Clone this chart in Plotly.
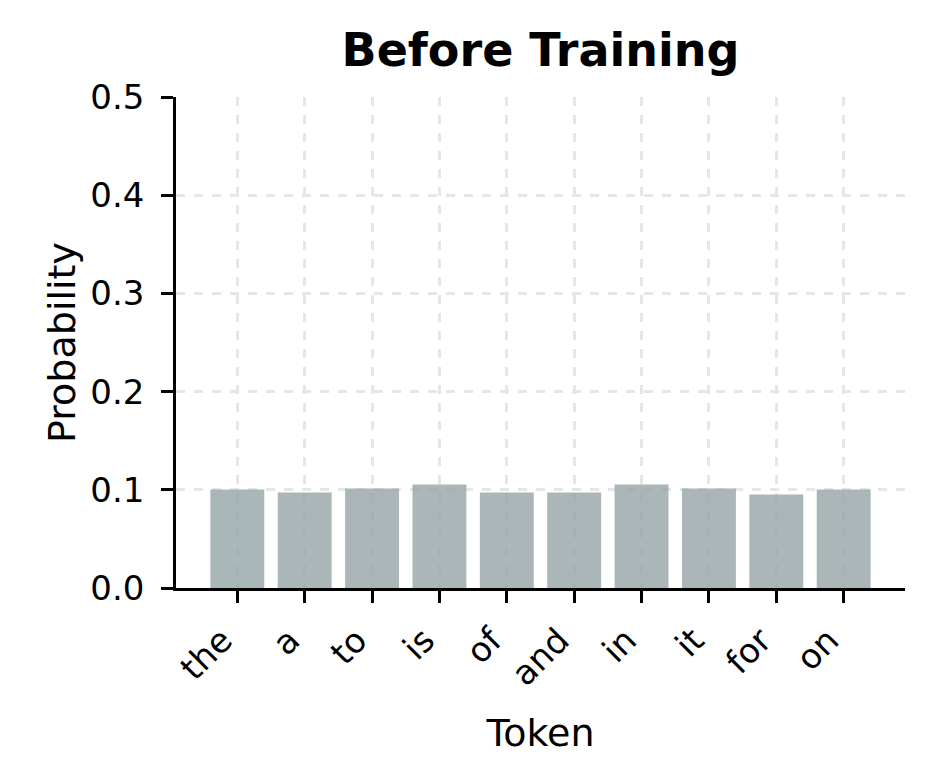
import plotly.graph_objects as go

tokens = ["the", "a", "to", "is", "of", "and", "in", "it", "for", "on"]
probs = [0.1003, 0.0973, 0.1014, 0.1055, 0.0973, 0.0973, 0.1055, 0.1014, 0.0952, 0.1003]
y_ticks = [0.0, 0.1, 0.2, 0.3, 0.4, 0.5]

FONT = "DejaVu Sans"
GRID = "#e6e6e6"

fig = go.Figure(
    go.Bar(
        x=list(range(len(tokens))),
        y=probs,
        width=0.8,
        marker=dict(color="#95a5a6", line=dict(width=0)),
        opacity=0.8,
    )
)

# page body adds an 8px offset, so margins are shifted to compensate
fig.update_layout(
    width=934,
    height=784,
    paper_bgcolor="white",
    plot_bgcolor="white",
    margin=dict(l=168, r=37, t=89, b=204),
    font=dict(family=FONT, size=34, color="black"),
    showlegend=False,
    title=dict(
        text="<b>Before Training</b>",
        x=0.5,
        xref="paper",
        xanchor="center",
        y=0.946,
        yanchor="middle",
        font=dict(family=FONT, size=46, color="black"),
    ),
)

fig.update_xaxes(
    range=[-0.91, 9.91],
    tickmode="array",
    tickvals=list(range(len(tokens))),
    ticktext=tokens,
    tickangle=-45,
    ticks="outside",
    ticklen=12,
    tickwidth=2.5,
    tickcolor="black",
    ticklabelshift=-15,
    ticklabelstandoff=4,
    showline=True,
    linecolor="black",
    linewidth=2.5,
    showgrid=True,
    gridcolor=GRID,
    gridwidth=2.5,
    griddash="dash",
    zeroline=False,
    title=dict(text="Token", font=dict(size=38), standoff=27),
    tickfont=dict(size=34),
)

fig.update_yaxes(
    range=[0, 0.5],
    tickmode="array",
    tickvals=y_ticks,
    ticktext=[f"{v:.1f}" for v in y_ticks],
    ticks="outside",
    ticklen=12,
    tickwidth=2.5,
    tickcolor="black",
    ticklabelstandoff=10,
    showline=True,
    linecolor="black",
    linewidth=2.5,
    showgrid=True,
    gridcolor=GRID,
    gridwidth=2.5,
    griddash="dash",
    zeroline=False,
    title=dict(text="Probability", font=dict(size=38), standoff=4),
    tickfont=dict(size=34),
)

fig.write_html("out.html")
